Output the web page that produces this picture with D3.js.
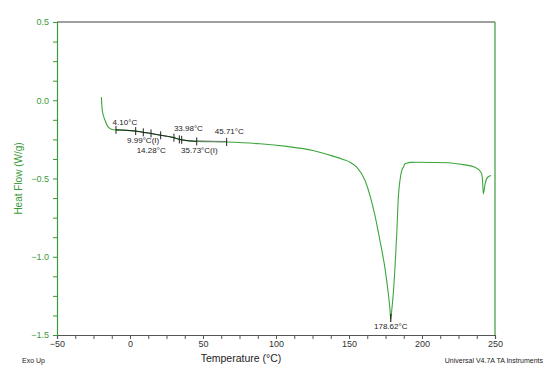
<!DOCTYPE html>
<html>
<head>
<meta charset="utf-8">
<script src="https://cdn.jsdelivr.net/npm/d3@7"></script>
<style>
  body { margin: 0; background: #fff; }
  svg { font-family: Arial, "Liberation Sans", sans-serif; }
</style>
</head>
<body>
<div id="chart"></div>
<script>
// DSC trace
var temps = [-19.6, -19.0, -17.1, -14.9, -11.4, -9.6, 3.9, 9.1, 14.4, 21.0, 30.1, 33.8, 35.4, 45.7,
    66.2, 89.0, 107.3, 125.3, 139.0, 145.9, 150.7, 155.3, 161.0, 164.4, 167.8, 171.2, 174.7,
    176.7, 178.0, 178.6, 179.4, 180.3, 181.5, 182.7, 183.8, 184.9, 186.1, 187.2, 188.4, 189.5,
    191.8, 197.5, 218.0, 227.2, 236.3, 240.4, 241.3, 242.0, 243.2, 245.0, 247.3];
var heatFlow = [0.02, -0.064, -0.128, -0.171, -0.188, -0.189, -0.197, -0.205, -0.212, -0.224,
    -0.239, -0.250, -0.253, -0.263, -0.267, -0.278, -0.295, -0.321, -0.357, -0.378, -0.396,
    -0.428, -0.513, -0.609, -0.737, -0.897, -1.077, -1.218, -1.33, -1.397, -1.33, -1.24,
    -1.069, -0.853, -0.620, -0.513, -0.449, -0.428, -0.406, -0.402, -0.397, -0.396, -0.399,
    -0.410, -0.428, -0.460, -0.492, -0.598, -0.534, -0.492, -0.481];

// glass transition analysis marks (temperature on axis)
var gtTicks = [-9.6, 3.9, 9.1, 14.4, 21.0, 30.1, 33.8, 35.4, 45.7, 66.2];
var gtLabels = ["4.10°C", "9.99°C(I)", "14.28°C", "33.98°C", "35.73°C(I)", "45.71°C"];
var gtLabelAt = [-3.5, 9.0, 14.5, 40.0, 47.5, 68.0];
var gtLabelDy = [-5, 11, 20, -10, 12, -8];
var peakTemp = 178.6, peakLabel = "178.62°C";

var xTicks = [-50, 0, 50, 100, 150, 200, 250];
var yTicks = [0.5, 0.0, -0.5, -1.0, -1.5];

var W = 547, H = 372;
var margin = {top: 22, right: 52, bottom: 37, left: 57};
var green = "#3a9a3a";

var svg = d3.select("#chart").append("svg")
    .attr("width", W).attr("height", H);

var x = d3.scaleLinear().domain([-50, 250]).range([margin.left, W - margin.right]);
var y = d3.scaleLinear().domain([-1.5, 0.5]).range([H - margin.bottom, margin.top]);

var data = temps.map(function (t, i) { return {t: t, v: heatFlow[i]}; });
function valueAt(t) {
    for (var i = 1; i < data.length; i++) {
        if (data[i].t >= t) {
            var a = data[i - 1], b = data[i];
            return a.v + (b.v - a.v) * (t - a.t) / (b.t - a.t);
        }
    }
    return data[data.length - 1].v;
}

// frame: top grey, right green
svg.append("line")
    .attr("x1", x(-50)).attr("x2", x(250)).attr("y1", y(0.5)).attr("y2", y(0.5))
    .attr("stroke", "#808080").attr("stroke-width", 1.5);
svg.append("line")
    .attr("x1", x(250)).attr("x2", x(250)).attr("y1", y(0.5)).attr("y2", y(-1.5))
    .attr("stroke", green).attr("stroke-width", 1.2);

// axes
var xAxis = d3.axisBottom(x)
    .tickValues(d3.range(-50, 250.1, 12.5))
    .tickSize(4)
    .tickFormat(function (d) { return xTicks.indexOf(d) >= 0 ? d3.format("d")(d) : ""; });
var gx = svg.append("g")
    .attr("transform", "translate(0," + y(-1.5) + ")")
    .call(xAxis);
gx.select(".domain").attr("stroke", "#555").attr("stroke-width", 1.2);
gx.selectAll(".tick line").attr("stroke", "#555");
gx.selectAll("text").attr("fill", "#333").attr("font-size", 9).attr("dy", "0.6em");

var yAxis = d3.axisLeft(y)
    .tickValues(d3.range(-1.5, 0.501, 0.125))
    .tickSize(4)
    .tickFormat(function (d) {
        var r = Math.round(d * 10) / 10;
        return yTicks.indexOf(r) >= 0 && Math.abs(d - r) < 1e-6 ? d3.format(".1f")(r) : "";
    });
var gy = svg.append("g")
    .attr("transform", "translate(" + x(-50) + ",0)")
    .call(yAxis);
gy.select(".domain").attr("stroke", green).attr("stroke-width", 1.2);
gy.selectAll(".tick line").attr("stroke", green);
gy.selectAll("text").attr("fill", green).attr("font-size", 9).attr("dx", "-0.1em");

// curve
var line = d3.line()
    .x(function (d) { return x(d.t); })
    .y(function (d) { return y(d.v); })
    .curve(d3.curveMonotoneX);

svg.append("path")
    .datum(data)
    .attr("fill", "none")
    .attr("stroke", "#3ca63c")
    .attr("stroke-width", 1.1)
    .attr("d", line);

// glass transition overlay
var gtData = data.filter(function (d) { return d.t >= -9.6 && d.t <= 45.7; });
svg.append("path")
    .datum(gtData)
    .attr("fill", "none")
    .attr("stroke", "#222")
    .attr("stroke-width", 1)
    .attr("d", line);
svg.append("line")
    .attr("x1", x(45.7)).attr("y1", y(valueAt(45.7)) - 0.5)
    .attr("x2", x(66.2)).attr("y2", y(valueAt(66.2)) - 0.5)
    .attr("stroke", "#777").attr("stroke-width", 1);

svg.selectAll(".gtick")
    .data(gtTicks)
    .join("line")
    .attr("class", "gtick")
    .attr("x1", function (d) { return x(d); })
    .attr("x2", function (d) { return x(d); })
    .attr("y1", function (d) { return y(valueAt(d)) - 4; })
    .attr("y2", function (d) { return y(valueAt(d)) + 4; })
    .attr("stroke", "#222").attr("stroke-width", 1);

svg.selectAll(".glabel")
    .data(gtLabels)
    .join("text")
    .attr("class", "glabel")
    .attr("x", function (d, i) { return x(gtLabelAt[i]); })
    .attr("y", function (d, i) { return y(valueAt(gtLabelAt[i])) + gtLabelDy[i]; })
    .attr("text-anchor", "middle")
    .attr("font-size", 8)
    .attr("fill", "#222")
    .text(function (d) { return d; });

// peak
var peakV = valueAt(peakTemp);
svg.append("line")
    .attr("x1", x(peakTemp)).attr("x2", x(peakTemp))
    .attr("y1", y(peakV) - 5).attr("y2", y(peakV) + 3)
    .attr("stroke", "#222").attr("stroke-width", 1.2);
svg.append("text")
    .attr("x", x(peakTemp)).attr("y", y(peakV) + 10)
    .attr("text-anchor", "middle")
    .attr("font-size", 8).attr("fill", "#222")
    .text(peakLabel);

// titles
svg.append("text")
    .attr("transform", "translate(22," + ((margin.top + H - margin.bottom) / 2) + ") rotate(-90)")
    .attr("text-anchor", "middle")
    .attr("font-size", 10)
    .attr("fill", green)
    .text("Heat Flow (W/g)");
svg.append("text")
    .attr("x", x(100) - 35).attr("y", 362)
    .attr("text-anchor", "middle")
    .attr("font-size", 10.5)
    .attr("fill", "#222")
    .text("Temperature (°C)");
svg.append("text")
    .attr("x", 22).attr("y", 363)
    .attr("font-size", 7)
    .attr("fill", "#222")
    .text("Exo Up");
svg.append("text")
    .attr("x", 543).attr("y", 363)
    .attr("text-anchor", "end")
    .attr("font-size", 7)
    .attr("fill", "#222")
    .text("Universal V4.7A TA Instruments");
</script>
</body>
</html>
